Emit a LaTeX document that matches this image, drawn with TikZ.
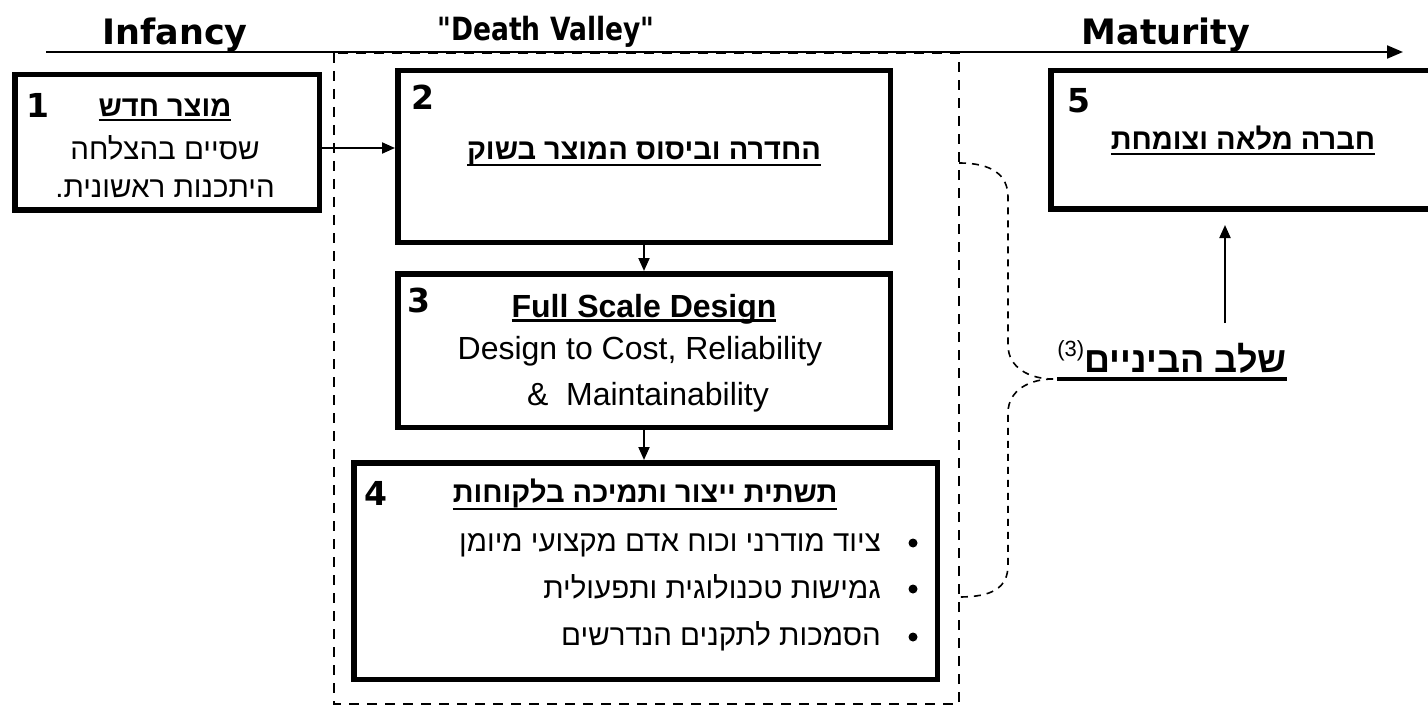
\documentclass[tikz,border=0pt]{standalone}
\usepackage{fontspec}
\setmainfont{Liberation Sans}
\newfontfamily\heb[Script=Hebrew]{Liberation Sans}
\newfontfamily\heavy{DejaVu Sans}
\newfontfamily\heavynarrow[FakeStretch=0.83]{DejaVu Sans}
\TeXXeTstate=1
\usetikzlibrary{arrows.meta}

% underlined box: #1 = depth of the rule's lower edge, #2 = rule thickness
\newcommand\undl[3]{\setbox0=\hbox{#3}\rlap{\rule[-#1]{\wd0}{#2}}\box0}
\newcommand\fs[1]{\fontsize{#1}{#1}\selectfont}

\tikzset{
  stage/.style={draw, line width=5.5pt, inner sep=0pt},
  region/.style={line width=2pt, dash pattern=on 10pt off 8pt},
  brace/.style={line width=1.6pt, dash pattern=on 7pt off 6pt},
  connector/.style={line width=2pt, -{Triangle[length=13pt,width=11pt]}},
  axis/.style={line width=2.2pt, -{Triangle[length=16pt,width=13pt]}},
  txt/.style={inner sep=0pt, anchor=base},
  num/.style={inner sep=0pt, anchor=base west, font=\heavy\bfseries\fs{33}},
  phase/.style={inner sep=0pt, anchor=base, font=\heavy\bfseries\fs{35}},
  hebtitle/.style={txt, font=\heb\bfseries\fs{29}},
  hebbody/.style={txt, font=\heb\fs{29.5}},
}

\begin{document}
\begin{tikzpicture}[x=1pt, y=-1pt]
\useasboundingbox (0,0) rectangle (1428,706);

% the "Death Valley" band
\draw[region] (334,53) -- (334,704) -- (959,704) -- (959,53) -- cycle;

% time axis
\coordinate (ax0) at (46,52);
\coordinate (ax1) at (1403,52);
\draw[axis] (ax0) -- (ax1);

\node[phase] (ph1) at (175,45) {Infancy};
\node[txt, font=\heavynarrow\bfseries\fs{32}] (ph2) at (546,41) {\symbol{34}Death Valley\symbol{34}};
\node[phase] (ph3) at (1166,45) {Maturity};

% stage boxes
\node[stage, minimum width=304.5pt, minimum height=135.5pt] (b1) at (167,142.5) {};
\node[stage, minimum width=492.5pt, minimum height=171.5pt] (b2) at (644,156.5) {};
\node[stage, minimum width=492.5pt, minimum height=153.5pt] (b3) at (644,350.5) {};
\node[stage, minimum width=583.5pt, minimum height=216.5pt] (b4) at (645.5,571) {};
\node[stage, minimum width=384.5pt, minimum height=138.5pt] (b5) at (1243,140) {};

% stage numbers
\node[num] (n1) at (26,118) {1};
\node[num] (n2) at (411,110) {2};
\node[num] (n3) at (407,312) {3};
\node[num] (n4) at (364,505) {4};
\node[num] (n5) at (1067,113) {5};

% stage 1
\node[hebtitle] (t1) at (165,117) {\undl{4.5pt}{2.5pt}{\beginR מוצר חדש\endR}};
\node[hebbody] (t1b) at (165,160) {\beginR שסיים בהצלחה\endR};
\node[hebbody] (t1c) at (165,197) {\beginR היתכנות ראשונית.\endR};

% stage 2
\node[hebtitle] (t2) at (644,160) {\undl{6.2pt}{2.5pt}{\beginR החדרה וביסוס המוצר בשוק\endR}};

% stage 3
\node[txt, font=\bfseries\fs{32}] (t3) at (644,317) {\undl{4.5pt}{2.5pt}{Full Scale Design}};
\node[txt, font=\fs{32}] (t3b) at (640,359) {Design to Cost, Reliability};
\node[txt, font=\fs{32}] (t3c) at (648,405) {\&\ \ Maintainability};

% stage 4
\node[hebtitle] (t4) at (645,502) {\undl{8pt}{2.5pt}{\beginR תשתית ייצור ותמיכה בלקוחות\endR}};
\node[hebbody, anchor=base east] (t4a) at (881,551) {\beginR ציוד מודרני וכוח אדם מקצועי מיומן\endR};
\node[hebbody, anchor=base east] (t4b) at (881,598) {\beginR גמישות טכנולוגית ותפעולית\endR};
\node[hebbody, anchor=base east] (t4c) at (881,645) {\beginR הסמכות לתקנים הנדרשים\endR};
\fill (913,543) circle (4.5pt);
\fill (913,589) circle (4.5pt);
\fill (913,637) circle (4.5pt);

% stage 5
\node[hebtitle] (t5) at (1243,150) {\undl{5.5pt}{2.5pt}{\beginR חברה מלאה וצומחת\endR}};

% intermediate phase label
\node[txt, anchor=base east] (mid) at (1287,372)
  {\undl{9pt}{4.5pt}{\raisebox{16pt}{\fs{22}(3)}{\heb\bfseries\fs{36}\beginR שלב הביניים\endR}}};

% flow between stages
\coordinate (a12) at (0,148);
\draw[connector] (b1.east |- a12) -- (b2.west |- a12);
\draw[connector] (b2.south) -- (b3.north);
\draw[connector] (b3.south) -- (b3.south |- b4.north);
\coordinate (upfoot) at (1225,323);
\draw[connector, shorten >=13pt] (upfoot) -- (upfoot |- b5.south);

% brace grouping stages 2-4
\coordinate (bt) at (959,163);
\coordinate (bb) at (959,597);
\coordinate (tip) at (1053,379);
\draw[brace] (bt) .. controls (992,163) and (1008,175) .. (1008,197) -- (1008,345)
  .. controls (1008,368) and (1030,379) .. (tip);
\draw[brace] (tip) .. controls (1030,379) and (1008,390) .. (1008,413) -- (1008,565)
  .. controls (1008,588) and (992,597) .. (bb);
\end{tikzpicture}
\end{document}
